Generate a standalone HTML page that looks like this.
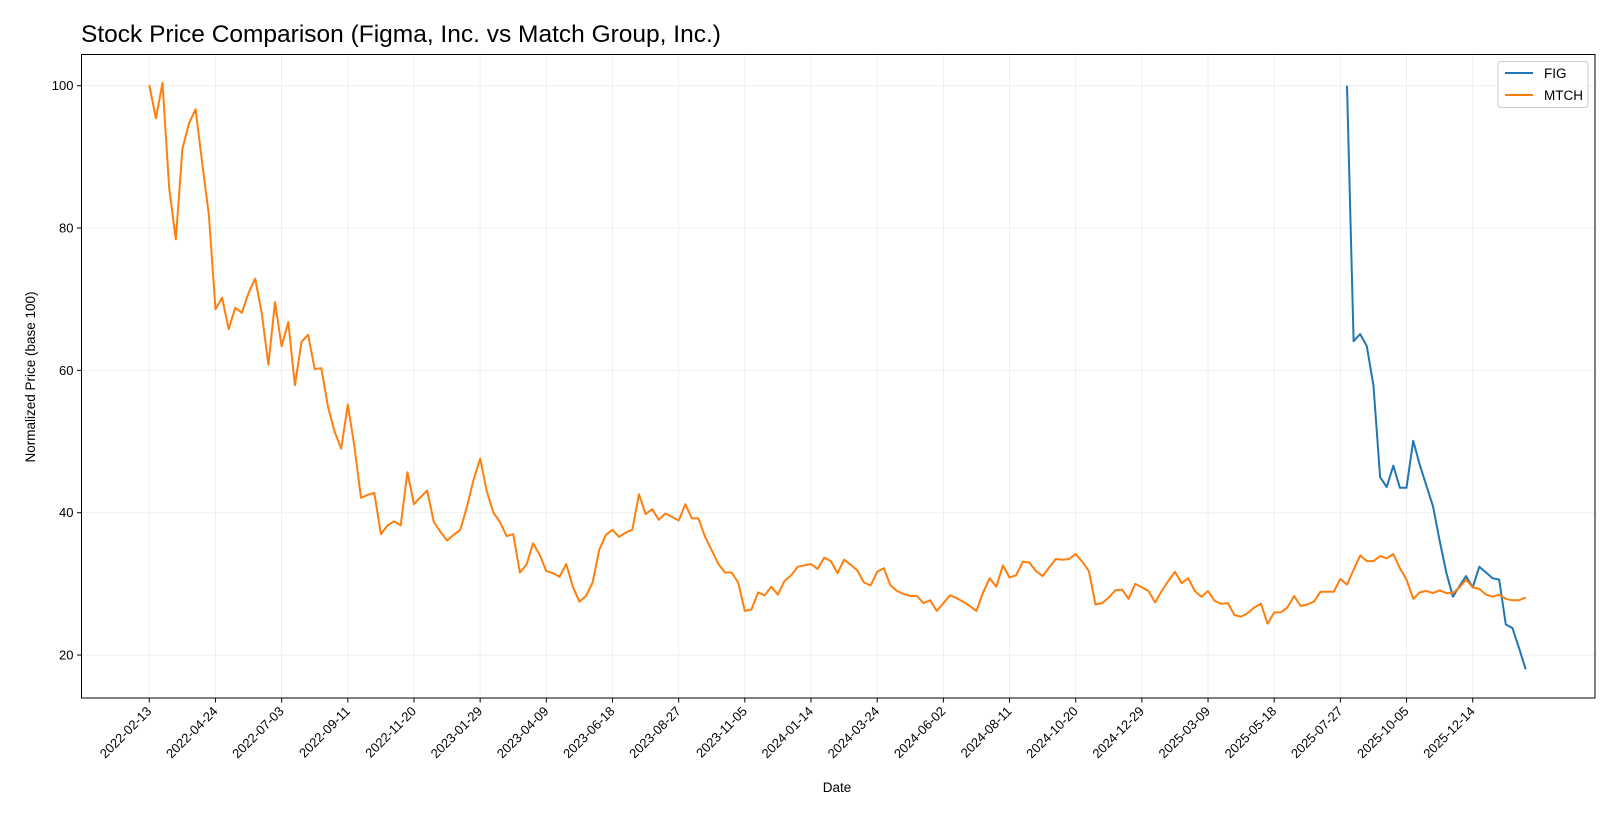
<!DOCTYPE html>
<html><head><meta charset="utf-8"><style>
body{margin:0;background:#fff;}
svg text{font-family:"Liberation Sans","DejaVu Sans",sans-serif;}
</style></head><body>
<svg id="chart" width="1620" height="819" xmlns="http://www.w3.org/2000/svg"></svg>
<script>
const mtchStart = '2022-02-13';
const mtchStepDays = 7;
const mtchValues = [100.1,95.4,100.4,85.6,78.4,91.1,94.7,96.7,89.1,81.8,68.6,70.2,65.8,68.8,68.1,70.9,72.9,68.0,60.8,69.6,63.4,66.8,57.9,64.0,65.0,60.2,60.3,54.9,51.4,49.0,55.2,49.3,42.1,42.5,42.8,37.0,38.2,38.8,38.2,45.7,41.2,42.2,43.1,
38.7,37.3,36.1,36.9,37.6,40.8,44.6,47.6,43.0,40.0,38.7,36.7,37.0,31.6,32.7,35.7,34.1,31.8,31.5,31.0,32.8,29.6,27.5,28.3,30.2,34.8,36.9,37.6,36.6,37.2,37.6,42.6,39.8,40.5,39.0,39.9,39.4,38.9,41.2,39.2,39.2,36.6,34.7,32.8,
31.6,31.6,30.2,26.2,26.4,28.8,28.4,29.6,28.5,30.4,31.2,32.4,32.6,32.8,32.1,33.7,33.2,31.5,33.4,32.7,31.9,30.2,29.8,31.7,32.2,29.8,29.0,28.6,28.3,28.3,27.3,27.7,26.2,27.3,28.4,28.0,27.5,26.9,26.2,28.8,30.8,29.6,32.6,
30.9,31.2,33.1,33.0,31.8,31.1,32.3,33.5,33.4,33.5,34.2,33.1,31.8,27.1,27.3,28.1,29.1,29.2,27.9,30.0,29.5,29.0,27.4,29.0,30.4,31.7,30.1,30.8,29.0,28.2,29.0,27.6,27.2,27.3,25.6,25.4,25.9,26.7,27.2,24.4,26.0,26.0,26.7,28.3,
26.9,27.1,27.5,28.9,28.9,28.9,30.7,29.9,32.0,34.0,33.2,33.2,33.9,33.6,34.2,32.2,30.6,27.9,28.8,29.0,28.7,29.1,28.7,28.7,29.5,30.6,29.5,29.3,28.5,28.2,28.5,27.9,27.7,27.7,28.1];
const figStart = '2025-08-03';
const figStepDays = 7;
const figValues = [100,64.1,65.1,63.4,57.8,45.0,43.6,46.6,43.5,43.5,50.1,46.7,43.8,40.9,36.1,31.6,28.2,29.7,31.1,29.5,32.4,31.6,30.8,30.6,24.3,23.8,21.0,18.0];
const xTickLabels = ['2022-02-13','2022-04-24','2022-07-03','2022-09-11','2022-11-20','2023-01-29','2023-04-09','2023-06-18','2023-08-27','2023-11-05','2024-01-14','2024-03-24','2024-06-02','2024-08-11','2024-10-20','2024-12-29','2025-03-09','2025-05-18','2025-07-27','2025-10-05','2025-12-14'];
const yTickValues = [20,40,60,80,100];

const NS='http://www.w3.org/2000/svg';
const svg=document.getElementById('chart');
const L=81.5,R=1595,T=54.5,B=698;
const base=Date.UTC(2022,1,13);
function days(s){const p=s.split('-');return (Date.UTC(+p[0],+p[1]-1,+p[2])-base)/86400000;}
function xS(d){return 149.3+d*0.9453;}
function yS(v){return 85.7+(100-v)*7.117;}
function mk(tag,attrs,parent){const e=document.createElementNS(NS,tag);for(const k in attrs)e.setAttribute(k,attrs[k]);(parent||svg).appendChild(e);return e;}

xTickLabels.forEach(t=>{const x=xS(days(t));
 const g=mk('line',{x1:x,x2:x,y1:T,y2:B,stroke:'#ececec','stroke-width':0.8});
 
 
});
yTickValues.forEach(v=>{const y=yS(v);
 const g=mk('line',{x1:L,x2:R,y1:y,y2:y,stroke:'#ececec','stroke-width':0.8});
 
 
});
function series(vals,start,step,color,name){
 const d0=days(start);
 const pts=vals.map((v,i)=>xS(d0+i*step).toFixed(1)+','+yS(v).toFixed(1)).join(' ');
 const p=mk('polyline',{points:pts,fill:'none',stroke:color,'stroke-width':2,'stroke-linejoin':'round'});
 
 
}
series(figValues,figStart,figStepDays,'#1f77b4','fig-line');
series(mtchValues,mtchStart,mtchStepDays,'#ff7f0e','mtch-line');
const fr=mk('rect',{x:L,y:T,width:R-L,height:B-T,fill:'none',stroke:'#000','stroke-width':1});


xTickLabels.forEach(t=>{const x=xS(days(t));
 const tk=mk('line',{x1:x,x2:x,y1:B,y2:B+4.5,stroke:'#000'});
 
 
 const tx=mk('text',{x:x+3,y:B+14,'font-size':13,'text-anchor':'end',transform:`rotate(-45 ${x+3} ${B+14})`});
 tx.textContent=t;
 
 
});
yTickValues.forEach(v=>{const y=yS(v);
 const tk=mk('line',{x1:L-4.5,x2:L,y1:y,y2:y,stroke:'#000'});
 
 
 const tx=mk('text',{x:L-8,y:y+4.5,'font-size':13,'text-anchor':'end'});
 tx.textContent=v;
 
 
});
</script>
<div style="position:absolute;left:0;top:0;width:1620px;height:819px;pointer-events:none">
<svg width="1620" height="819" xmlns="http://www.w3.org/2000/svg" style="position:absolute;left:0;top:0">
<text x="81" y="42" font-size="24.5" fill="#000">Stock Price Comparison (Figma, Inc. vs Match Group, Inc.)</text>
<text x="837" y="792" font-size="13.5" text-anchor="middle">Date</text>
<text x="35" y="377" font-size="13.5" text-anchor="middle" transform="rotate(-90 35 377)">Normalized Price (base 100)</text>
<g>
<rect x="1498" y="61.5" width="90" height="46" rx="3" fill="#fff" fill-opacity="0.85" stroke="#ccc"/>
<g>
<line x1="1505" x2="1533" y1="73" y2="73" stroke="#1f77b4" stroke-width="2"/>
<text x="1544" y="78" font-size="13.5">FIG</text></g>
<g>
<line x1="1505" x2="1533" y1="95" y2="95" stroke="#ff7f0e" stroke-width="2"/>
<text x="1544" y="100" font-size="13.5">MTCH</text></g>
</g>
</svg></div>
</body></html>
